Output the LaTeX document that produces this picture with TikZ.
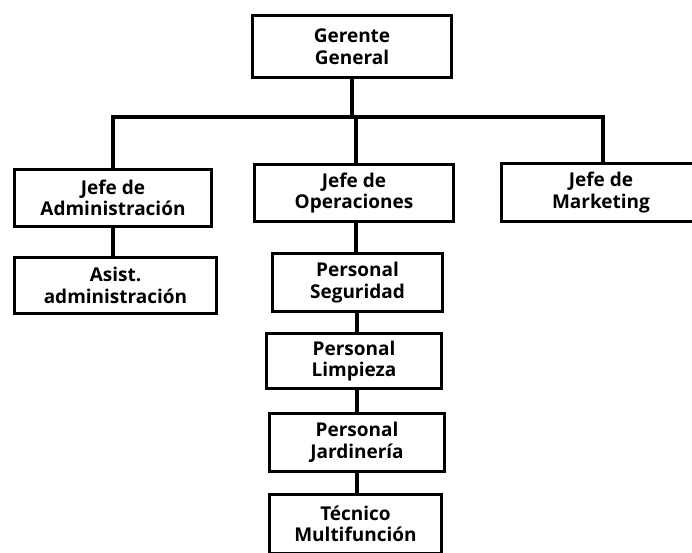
\documentclass[tikz,border=0pt]{standalone}
\usepackage{fontspec}
\newfontfamily\boxfont{Open Sans}[BoldFont={* Bold}]
\begin{document}
\begin{tikzpicture}[x=1pt,y=-1pt,
  unit/.style={draw=black, line width=3.4pt, fill=white, inner sep=0pt,
    align=center, font=\boxfont\bfseries\fontsize{19}{21.5}\selectfont},
  link/.style={draw=black, line width=3.4pt}]
  \useasboundingbox (0,0) rectangle (692,552);

  % boxes: centre, size
  \node[unit, minimum width=199pt, minimum height=62pt] (gg)  at (352,46.5) {Gerente\\General};
  \node[unit, minimum width=197pt, minimum height=57pt] (adm) at (113,198) {Jefe de\\Administración};
  \node[unit, minimum width=202pt, minimum height=56pt] (asi) at (115.5,285.5) {Asist.\\administración};
  \node[unit, minimum width=199pt, minimum height=57pt] (ops) at (354,193) {Jefe de\\Operaciones};
  \node[unit, minimum width=199pt, minimum height=58pt] (mkt) at (601,192.5) {Jefe de\\Marketing};
  \node[unit, minimum width=170pt, minimum height=58pt] (seg) at (357.5,282.5) {Personal\\Seguridad};
  \node[unit, minimum width=175pt, minimum height=55pt] (lim) at (354,361) {Personal\\Limpieza};
  \node[unit, minimum width=175pt, minimum height=58pt] (jar) at (357,442.5) {Personal\\Jardinería};
  \node[unit, minimum width=172pt, minimum height=59pt] (tec) at (355.5,524) {Técnico\\Multifunción};

  % distribution bar below the general manager
  \coordinate (busL) at (113,117);
  \coordinate (busR) at (603,117);
  \coordinate (busM) at (352,117);

  \draw[link] (gg.south) -- (busM);
  \draw[link] (adm.north) -- (busL) -- (busR) -- (busR |- mkt.north);
  \draw[link] (ops.north -| 356,0) -- (busM -| 356,0);
  \draw[link] (adm.south) -- (asi.north -| adm.south);

  % operations chain
  \draw[link] (ops.south -| 356,0) -- (seg.north -| 356,0);
  \draw[link] (seg.south -| 357,0) -- (lim.north -| 357,0);
  \draw[link] (lim.south -| 357,0) -- (jar.north -| 357,0);
  \draw[link] (jar.south -| 357,0) -- (tec.north -| 357,0);
\end{tikzpicture}
\end{document}
